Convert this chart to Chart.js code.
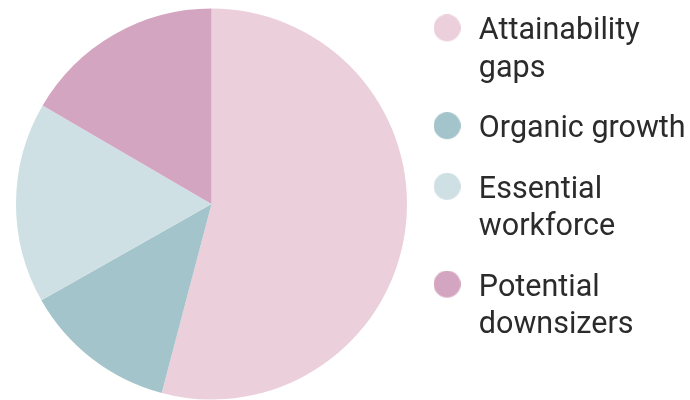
<!DOCTYPE html>
<html>
<head>
<meta charset="utf-8">
<script src="https://cdn.jsdelivr.net/npm/chart.js@4/dist/chart.umd.min.js"></script>
<style>
  html, body { margin: 0; padding: 0; background: #ffffff; }
  #wrap { width: 690px; height: 400px; position: relative; }
</style>
</head>
<body>
<div id="wrap"><canvas id="c"></canvas></div>
<script>
const categories = [
  ["Attainability", "gaps"],
  ["Organic growth"],
  ["Essential", "workforce"],
  ["Potential", "downsizers"]
];
const shares = [54.1, 12.7, 16.6, 16.6];
const colors = ["#ebcfdb", "#a3c4ca", "#cfe0e4", "#d4a5c0"];

function dot(color) {
  const cv = document.createElement('canvas');
  cv.width = 27; cv.height = 35;
  const g = cv.getContext('2d');
  g.fillStyle = color;
  g.beginPath();
  g.arc(13.5, 13.5, 13.5, 0, Math.PI * 2);
  g.fill();
  return cv;
}
const dots = colors.map(dot);

new Chart(document.getElementById('c'), {
  type: 'pie',
  data: {
    labels: categories,
    datasets: [{
      data: shares,
      backgroundColor: colors,
      borderWidth: 0
    }]
  },
  options: {
    responsive: true,
    maintainAspectRatio: false,
    animation: false,
    layout: { autoPadding: false, padding: { top: -7, left: 16, bottom: 0, right: 0 } },
    plugins: {
      tooltip: { enabled: false },
      title: {
        display: true,
        text: '',
        padding: 0,
        font: { size: 10, lineHeight: 1.5 }
      },
      legend: {
        position: 'right',
        align: 'start',
        maxWidth: 283,
        labels: {
          usePointStyle: true,
          pointStyleWidth: 33,
          boxHeight: 26,
          padding: 23.6,
          color: '#2b2b2b',
          font: { family: 'Roboto', size: 30.5, lineHeight: 1.216 },
          generateLabels(chart) {
            const items = Chart.controllers.pie.overrides.plugins.legend.labels.generateLabels(chart);
            items.forEach((it, i) => { it.pointStyle = dots[i]; });
            return items;
          }
        }
      }
    }
  }
});
</script>
</body>
</html>
